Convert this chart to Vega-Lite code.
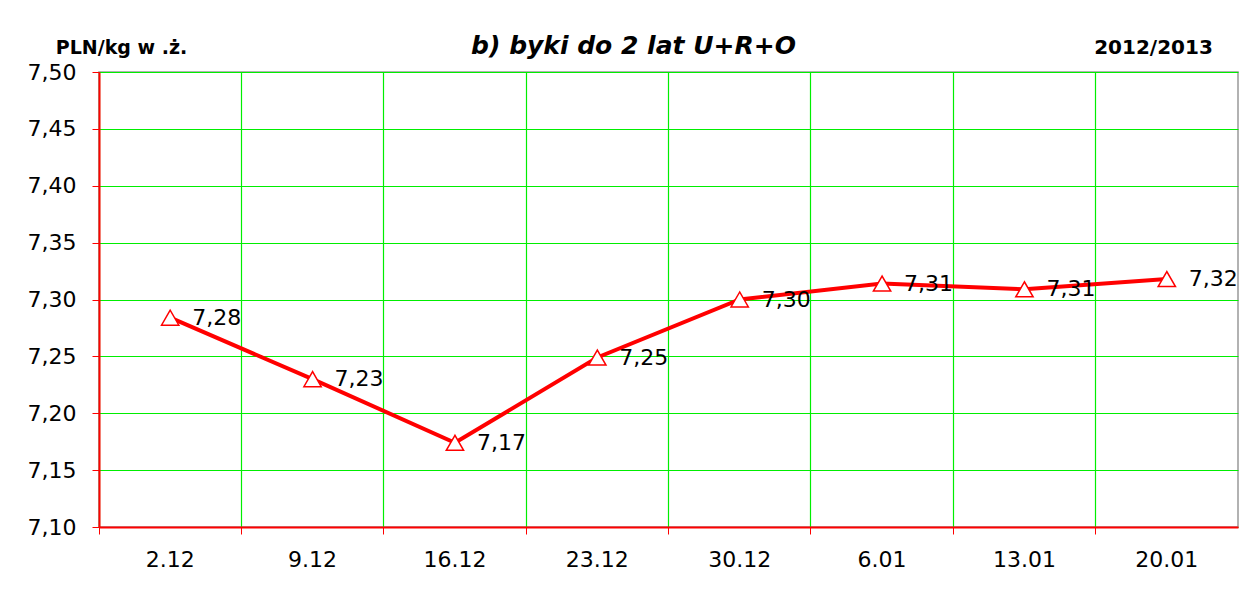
{
  "$schema": "https://vega.github.io/schema/vega-lite/v6.json",
  "autosize": {"type": "none"},
  "width": 1139,
  "height": 455,
  "padding": {"left": 99, "top": 72, "right": 17, "bottom": 66},
  "background": "white",
  "config": {
    "locale": {"number": {"decimal": ",", "thousands": " ", "grouping": [3], "currency": ["", " zł"]}},
    "font": "DejaVu Sans",
    "view": {"stroke": "#999999", "strokeWidth": 1.5}
  },
  "title": {
    "text": "b) byki do 2 lat U+R+O",
    "font": "DejaVu Sans",
    "fontSize": 25,
    "fontStyle": "italic",
    "fontWeight": "bold",
    "color": "black",
    "anchor": "middle",
    "dx": -35,
    "offset": -42,
    "baseline": "alphabetic"
  },
  "data": {
    "values": [
      {"date": "2.12", "price": 7.284},
      {"date": "9.12", "price": 7.23},
      {"date": "16.12", "price": 7.174},
      {"date": "23.12", "price": 7.249},
      {"date": "30.12", "price": 7.3},
      {"date": "6.01", "price": 7.314},
      {"date": "13.01", "price": 7.309},
      {"date": "20.01", "price": 7.318}
    ]
  },
  "encoding": {
    "x": {
      "field": "date", "type": "nominal", "sort": null,
      "scale": {"type": "band", "paddingInner": 0, "paddingOuter": 0},
      "axis": {
        "title": "2012/2013",
        "titleFont": "DejaVu Sans", "titleFontSize": 20, "titleFontWeight": "bold", "titleColor": "black",
        "titleX": 1054, "titleY": -480, "titleAlign": "center", "titleBaseline": "middle",
        "bandPosition": 0,
        "labelAngle": 0, "labelFontSize": 22, "labelColor": "black", "labelPadding": 15,
        "domainColor": "#ff0000", "domainWidth": 2,
        "tickColor": "#ff0000", "tickSize": 7, "tickWidth": 1,
        "grid": true, "gridColor": "#00ee00", "gridWidth": 1.2
      }
    },
    "y": {
      "field": "price", "type": "quantitative",
      "scale": {"domain": [7.1, 7.5], "nice": false, "zero": false},
      "axis": {
        "title": "PLN/kg w .ż.",
        "titleFont": "DejaVu Sans", "titleFontSize": 19, "titleFontWeight": "bold", "titleColor": "black",
        "titleAngle": 0, "titleX": 22, "titleY": -25, "titleAlign": "center", "titleBaseline": "middle",
        "values": [7.1, 7.15, 7.2, 7.25, 7.3, 7.35, 7.4, 7.45, 7.5],
        "format": ".2f",
        "labelFontSize": 22, "labelColor": "black", "labelPadding": 16,
        "domainColor": "#ff0000", "domainWidth": 2,
        "tickColor": "#ff0000", "tickSize": 7,
        "grid": true, "gridColor": "#00ee00", "gridWidth": 1.2
      }
    }
  },
  "layer": [
    {"mark": {"type": "line", "color": "#ff0000", "strokeWidth": 4}},
    {"mark": {"type": "point", "shape": "triangle-up", "size": 300, "filled": true, "fill": "white", "stroke": "#ff0000", "strokeWidth": 1.5, "opacity": 1}},
    {
      "mark": {"type": "text", "align": "left", "baseline": "middle", "dx": 22, "fontSize": 22, "color": "black"},
      "encoding": {"text": {"field": "price", "type": "quantitative", "format": ".2f"}}
    }
  ]
}
